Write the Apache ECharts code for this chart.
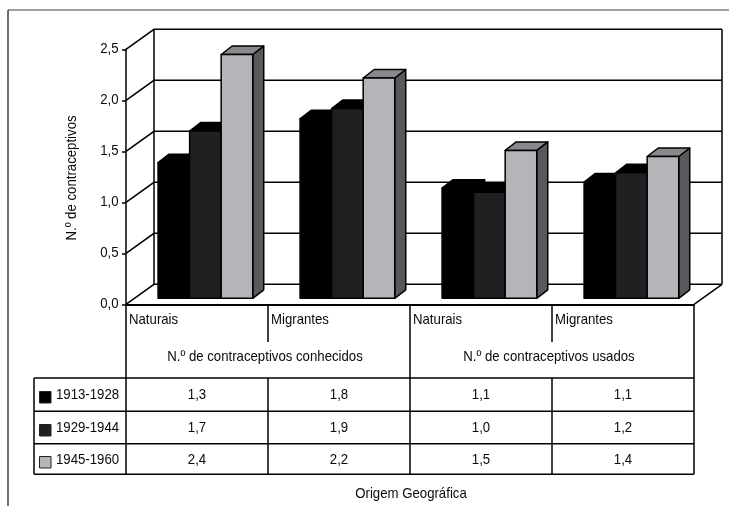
<!DOCTYPE html>
<html><head><meta charset="utf-8">
<style>html,body{margin:0;padding:0;background:#fff}#c{width:729px;height:506px}</style>
<script src="https://cdn.jsdelivr.net/npm/echarts@6/dist/echarts.min.js"></script>
</head><body><div id="c"></div>
<script>
const categories = ['Naturais', 'Migrantes', 'Naturais', 'Migrantes'];
const groupLabels = ['N.º de contraceptivos conhecidos', 'N.º de contraceptivos usados'];
const seriesNames = ['1913-1928', '1929-1944', '1945-1960'];
const values1913 = [1.33, 1.76, 1.08, 1.14];
const values1929 = [1.64, 1.86, 1.04, 1.23];
const values1945 = [2.39, 2.16, 1.45, 1.39];
const table1913 = ['1,3', '1,8', '1,1', '1,1'];
const table1929 = ['1,7', '1,9', '1,0', '1,2'];
const table1945 = ['2,4', '2,2', '1,5', '1,4'];
const yTicks = [0, 0.5, 1, 1.5, 2, 2.5];
const yTitle = 'N.º de contraceptivos';
const xTitle = 'Origem Geográfica';

const FONT = '"Liberation Sans",Arial,sans-serif';
const FS = 15, SX = 0.88;
const X0 = 126, Y0 = 304.3, Y1 = 49.3, BW = 142;
const DX = 28, DY = -20;             // wall depth
const fillFront = ['#000000', '#1f2022', '#b4b5b8'];
const fillTop = ['#000000', '#000000', '#88898c'];
const fillSide = ['#000000', '#000000', '#58595b'];
const LW = 1.5, INK = '#000';
const allValues = [values1913, values1929, values1945];
const tableRows = [table1913, table1929, table1945];

const line = (x1, y1, x2, y2, w, c) => ({type:'line', silent:true, shape:{x1,y1,x2,y2}, style:{stroke:c||INK, lineWidth:w||LW}});
const txt = (x, y, text, align, rot) => ({type:'text', silent:true, x, y, rotation:rot||0, scaleX:SX, scaleY:1,
  style:{text, fill:'#0a0a0a', font:FS+'px '+FONT, align:align||'center', verticalAlign:'middle'}});

function wallItem(params, api) {
  const v = api.value(0);
  const p = api.coord([0, v]);
  const left = p[0] - api.size([1, 0])[0] / 2;
  const right = left + 4 * api.size([1, 0])[0];
  const y = p[1];
  return {type:'group', children:[
    {type:'polyline', silent:true, shape:{points:[[left, y],[left+DX, y+DY],[right+DX, y+DY]]}, style:{fill:'none', stroke:INK, lineWidth:LW}},
    txt(left-7.5, y-0.5, v.toFixed(1).replace('.', ','), 'right')
  ]};
}

function barItem(s) {
  return function (params, api) {
    const cat = api.value(0), v = api.value(1);
    const band = api.size([1, 0])[0];
    const top = api.coord([cat, v]), base = api.coord([cat, 0]);
    const w = band / 4.5;
    const x = top[0] - band / 2 + 8.4 + w * 0.75 + s * w;
    const yT = top[1] - 6, yB = base[1] - 6;
    const dx = 11, dy = -8.5;
    const st = f => ({fill:f, stroke:INK, lineWidth:LW, lineJoin:'round'});
    return {type:'group', children:[
      {type:'polygon', shape:{points:[[x+w,yT],[x+w+dx,yT+dy],[x+w+dx,yB+dy],[x+w,yB]]}, style:st(fillSide[s])},
      {type:'polygon', shape:{points:[[x,yT],[x+dx,yT+dy],[x+w+dx,yT+dy],[x+w,yT]]}, style:st(fillTop[s])},
      {type:'rect', shape:{x, y:yT, width:w, height:yB-yT}, style:st(fillFront[s])}
    ]};
  };
}

const graphics = [];
// outer frame
graphics.push(line(8, 10, 729, 10, 1.3, '#808080'));
graphics.push(line(8, 10, 8, 506, 1.3, '#222'));
// back wall edges
graphics.push(line(X0+DX, Y0+DY, X0+DX, Y1+DY));
graphics.push(line(X0+4*BW+DX, Y0+DY, X0+4*BW+DX, Y1+DY));
graphics.push(line(X0+4*BW, Y0, X0+4*BW+DX, Y0+DY));
// table lines
const rowY = [378, 411.3, 443.7, 474.3];
const rowC = [395, 428, 460];
const TL = 34, TR = X0 + 4*BW;
rowY.forEach(y => graphics.push(line(TL, y, TR, y)));
graphics.push(line(TL, 378, TL, 474.3));
graphics.push(line(X0, Y0, X0, 474.3));
graphics.push(line(X0+2*BW, Y0, X0+2*BW, 474.3));
graphics.push(line(TR, Y0, TR, 474.3));
[1, 3].forEach(i => {
  graphics.push(line(X0+i*BW, Y0, X0+i*BW, 342));
  graphics.push(line(X0+i*BW, 378, X0+i*BW, 474.3));
});
categories.forEach((c, i) => graphics.push(txt(X0+i*BW+3, 320, c, 'left')));
groupLabels.forEach((g, i) => graphics.push(txt(X0+BW+2*i*BW-3, 357, g)));
seriesNames.forEach((n, r) => {
  graphics.push({type:'rect', silent:true, shape:{x:39.5, y:rowC[r]-3.5, width:11.5, height:11.5}, style:{fill:fillFront[r], stroke:'#222', lineWidth:1}});
  graphics.push(txt(56, rowC[r], n, 'left'));
  tableRows[r].forEach((t, i) => graphics.push(txt(X0+i*BW+BW/2, rowC[r], t)));
});
graphics.push(txt(411, 494, xTitle));
graphics.push(txt(72, 178, yTitle, 'center', Math.PI/2));

const series = [{
  type:'custom', name:'wall', silent:true, z:1, clip:false, renderItem:wallItem,
  data: yTicks.map(v => [v]), encode:{x:-1, y:0}
}];
allValues.forEach((vals, s) => series.push({
  type:'custom', name:seriesNames[s], silent:true, z:3, clip:false, renderItem:barItem(s),
  data: vals.map((v, i) => [i, v]), encode:{x:0, y:1}
}));

const chart = echarts.init(document.getElementById('c'), null, {renderer:'canvas'});
chart.setOption({
  animation:false, backgroundColor:'#fff',
  grid:{left:X0, top:Y1, width:4*BW, height:Y0-Y1, containLabel:false},
  xAxis:{type:'category', data:categories, axisLabel:{show:false}, axisTick:{show:false},
    axisLine:{show:true, lineStyle:{color:INK, width:1.8}}, splitLine:{show:false}},
  yAxis:{type:'value', min:0, max:2.5, interval:0.5,
    axisLine:{show:true, lineStyle:{color:INK, width:LW}},
    axisTick:{show:true, length:4, lineStyle:{color:INK, width:LW}},
    splitLine:{show:false},
    axisLabel:{show:false}},
  graphic:{elements:graphics},
  series
});
</script></body></html>
